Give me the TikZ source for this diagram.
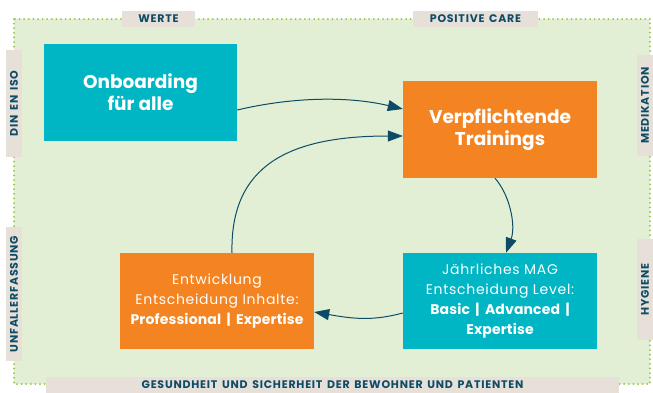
\documentclass[tikz,border=0pt]{standalone}
\usepackage{fontspec}
\setmainfont{Poppins}
\newfontfamily\tagfont[LetterSpace=7,WordSpace=1.5]{Poppins}
\usetikzlibrary{arrows.meta}
\definecolor{bg}{HTML}{E2EFD5}
\definecolor{dotg}{HTML}{8CC63F}
\definecolor{tealc}{HTML}{00B6C4}
\definecolor{orng}{HTML}{F48422}
\definecolor{lbl}{HTML}{E6E0D8}
\definecolor{navy}{HTML}{0D4B66}
\begin{document}
\begin{tikzpicture}[x=1pt,y=-1pt,
 box/.style={rectangle, minimum width=194pt, minimum height=97pt, inner sep=0pt, text=white, align=center},
 bigtxt/.style={font=\fontsize{18.5}{22}\selectfont\bfseries},
 smalltxt/.style={font=\fontsize{14}{20}\selectfont\addfontfeatures{LetterSpace=5}},
 tag/.style={fill=lbl, inner sep=0pt, minimum height=16pt, text=navy, font=\tagfont\fontsize{11}{12}\selectfont\bfseries},
 conn/.style={draw=navy, line width=1pt, -{Triangle[length=15pt,width=11pt]}}]
\newcommand{\bx}[1]{{\bfseries\addfontfeatures{LetterSpace=1}#1}}
\useasboundingbox (0,0) rectangle (653,392);
\fill[bg] (14,19) rectangle (650,384);
\draw[dotg, line width=2pt, line cap=round, dash pattern=on 0pt off 4.6pt] (14,19) rectangle (650,384);

\node[tag, minimum width=73pt] (werte) at (158.5,19) {WERTE};
\node[tag, minimum width=125pt] (pc) at (475.5,19) {POSITIVE CARE};
\node[tag, minimum width=573pt] (ges) at (332.5,384.5) {GESUNDHEIT UND SICHERHEIT DER BEWOHNER UND PATIENTEN};
\node[tag, rotate=90, minimum width=107pt] (din) at (14,103.5) {DIN EN ISO};
\node[tag, rotate=90, minimum width=134pt] (unf) at (14,294) {UNFALLERFASSUNG};
\node[tag, rotate=90, minimum width=101pt] (med) at (645,105.5) {MEDIKATION};
\node[tag, rotate=90, minimum width=101pt] (hyg) at (645,289.5) {HYGIENE};

\node[box, fill=tealc, bigtxt, minimum width=193pt] (onb) at (140.5,92.5) {Onboarding\\für alle};
\node[box, fill=orng, bigtxt] (ver) at (500,129.5) {Verpflichtende\\Trainings};
\node[box, fill=orng, smalltxt, minimum height=96pt] (ent) at (217,301) {Entwicklung\\Entscheidung Inhalte:\\\bx{Professional \,|\, Expertise}};
\node[box, fill=tealc, smalltxt, minimum height=96pt] (jah) at (500,301) {Jährliches MAG\\Entscheidung Level:\\\bx{Basic \,|\, Advanced \,|}\\\bx{Expertise}};

\draw[conn] ([yshift=-17.5pt]onb.east) .. controls +(55,-13) and +(-55,-13) .. ([yshift=20.5pt]ver.west);
\draw[conn] ([xshift=15pt]ent.north) .. controls +(-2,-88) and +(-113,0) .. ([yshift=-6.5pt]ver.west);
\draw[conn] ([xshift=-5pt]ver.south) .. controls +(15,17) and +(10,-27) .. ([xshift=6pt]jah.north);
\draw[conn] ([yshift=-12pt]jah.west) .. controls +(-30,8) and +(40,7) .. ([yshift=-11pt]ent.east);
\end{tikzpicture}
\end{document}
